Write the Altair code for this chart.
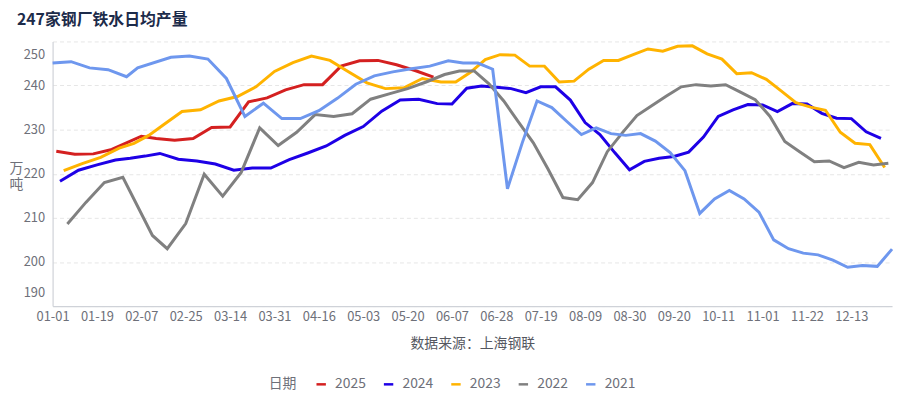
import altair as alt
import pandas as pd

chart_title = "247家钢厂铁水日均产量"
x_title = "数据来源：上海钢联"
y_title = ["万", "吨"]
legend_title = "日期"

years = ["2025", "2024", "2023", "2022", "2021"]
colors = ["#d42020", "#1e00e6", "#ffb300", "#808080", "#6e97ee"]

# first weekly (Friday) release of each year, and weeks with no release
first_date = {"2025": "2025-01-03", "2024": "2024-01-05", "2023": "2023-01-06",
              "2022": "2022-01-07", "2021": "2021-01-01"}
skipped = {"2025": ["2025-01-31"], "2024": [], "2023": [],
           "2022": ["2022-02-04"], "2021": ["2021-02-12"]}

tick_labels = ["01-01", "01-19", "02-07", "02-25", "03-14", "03-31", "04-16",
               "05-03", "05-20", "06-07", "06-28", "07-19", "08-09", "08-30",
               "09-20", "10-11", "11-01", "11-22", "12-13"]
y_ticks = [190, 200, 210, 220, 230, 240, 250]

v2025 = [225.1, 224.4, 224.5, 225.5, 228.5, 228.0, 227.6, 228.0, 230.5, 230.6,
         236.3, 237.2, 239.0, 240.2, 240.2, 244.4, 245.6, 245.7, 244.7, 243.4, 241.9]

v2024 = [218.3, 220.8, 222.0, 223.1, 223.5, 224.0, 224.6, 223.3, 222.9, 222.2,
         220.8, 221.3, 221.3,
         223.2, 224.7, 226.3, 228.7, 230.7, 234.2, 236.7, 236.9, 235.9, 235.8, 239.4,
         239.9, 239.6, 239.3, 238.4, 239.7, 239.7, 236.7, 231.6, 228.9, 224.8,
         220.9, 222.8, 223.5, 223.9,
         224.9, 228.3, 233.0, 234.5, 235.7, 235.6, 234.1, 235.9, 235.8, 233.7,
         232.6, 232.5, 229.5, 228.0]

v2023 = [220.7, 222.3, 223.7, 225.8, 226.9, 228.7, 231.1, 234.1, 234.5, 236.5,
         237.5, 239.7,
         243.2, 245.2, 246.7, 245.7, 243.1, 240.6, 239.3, 239.5, 241.6, 240.8,
         240.8, 243.0,
         245.9, 247.0, 246.9, 244.4, 244.4, 240.8, 241.0, 243.7, 245.7, 245.7,
         247.0, 248.3, 247.8, 248.9,
         249.0, 247.2, 246.0, 242.7, 242.9, 241.4, 238.8, 236.1, 235.1, 234.4,
         229.4, 226.9, 226.6, 221.4]

v2022 = [208.6, 213.5, 218.0, 219.2, 206.0, 203.0, 208.7, 219.9, 214.9, 220.3,
         230.4,
         226.4, 229.4, 233.4, 233.0, 233.6, 236.9, 238.1, 239.3, 240.8, 242.5,
         243.3, 243.3,
         240.4, 236.5, 231.7, 227.0, 221.0, 214.6, 214.1, 218.0, 225.0, 229.2,
         233.2, 235.4, 237.6, 239.7,
         240.2, 239.9, 240.2, 238.5, 236.8, 233.0, 227.3, 225.0, 222.7, 222.9,
         221.4, 222.6, 222.0, 222.4]

v2021 = [245.1, 245.4, 244.0, 243.6, 242.0, 244.0, 246.4, 246.7, 246.0, 241.6,
         233.0, 236.0,
         232.5, 232.5, 234.3, 237.1, 240.3, 242.2, 243.1, 243.8, 244.4, 245.6, 245.1,
         245.1, 243.7, 216.6, 227.0, 236.5, 235.0, 231.9, 228.9, 230.4, 229.1,
         228.7, 229.1, 227.4, 224.8, 220.7,
         211.0, 214.3, 216.2, 214.3, 211.3, 205.0, 203.0, 202.0, 201.6, 200.4,
         198.8, 199.2, 199.0, 202.9]

values = {"2025": v2025, "2024": v2024, "2023": v2023, "2022": v2022, "2021": v2021}

rows = []
for yr in years:
    vals = values[yr]
    dates = pd.date_range(first_date[yr], periods=len(vals) + len(skipped[yr]), freq="7D")
    dates = [d for d in dates if d.strftime("%Y-%m-%d") not in skipped[yr]]
    for d, v in zip(dates, vals):
        rows.append({"md": d.strftime("%m-%d"), "value": v, "year": yr})
df = pd.DataFrame(rows)

FONT = "Noto Sans CJK SC"
GREY = "#6e7079"

chart = alt.Chart(df).mark_line(strokeWidth=3).encode(
    x=alt.X("md:O", sort="ascending",
            scale=alt.Scale(type="point", padding=0),
            axis=alt.Axis(values=tick_labels, title=x_title, labelAngle=0,
                          labelOverlap=False, ticks=False, grid=False,
                          domainColor="#cfd2d8", domainWidth=1.2,
                          labelPadding=5, labelFontSize=13, labelColor=GREY,
                          labelFont=FONT, titleFont=FONT, titleFontSize=14,
                          titleFontWeight="normal", titleColor="#55575f",
                          titleBaseline="middle", titleY=38)),
    y=alt.Y("value:Q",
            scale=alt.Scale(domain=[190, 250], nice=False, zero=False),
            axis=alt.Axis(values=y_ticks, title=y_title, titleAngle=0,
                          titleAlign="center", titleBaseline="top",
                          titleX=-37, titleY=121, titleLineHeight=16,
                          titleFont=FONT, titleFontSize=14,
                          titleFontWeight="normal", titleColor=GREY,
                          ticks=False, domainColor="#cfd2d8", domainWidth=1.2,
                          labelPadding=8, labelFontSize=13, labelColor=GREY,
                          labelFont=FONT, labelFlush=True, labelFlushOffset=-7,
                          grid=True, gridDash=[4, 3], gridColor="#e6e6e6")),
    color=alt.Color("year:N", sort=years,
                    scale=alt.Scale(domain=years, range=colors),
                    legend=alt.Legend(title=legend_title, orient="none",
                                      legendX=218, legendY=339,
                                      direction="horizontal", titleOrient="left",
                                      titleFont=FONT, titleFontSize=14,
                                      titleFontWeight="normal", titleColor=GREY,
                                      titlePadding=18, labelFont=FONT,
                                      labelFontSize=14, labelColor=GREY,
                                      symbolType="stroke", symbolSize=90,
                                      symbolStrokeWidth=2.5, labelOffset=7,
                                      columnPadding=12)),
).properties(
    width=847,
    height=267,
    autosize=alt.AutoSizeParams(type="none"),
    padding={"left": 45, "top": 32, "right": 5, "bottom": 85},
    title=alt.Title(chart_title, anchor="start", fontSize=16, fontWeight="bold",
                    color="#1c2b4a", font=FONT, dx=8, offset=12),
).configure_view(stroke=None)

chart.save("out.html", embed_options={"renderer": "svg", "actions": False})
